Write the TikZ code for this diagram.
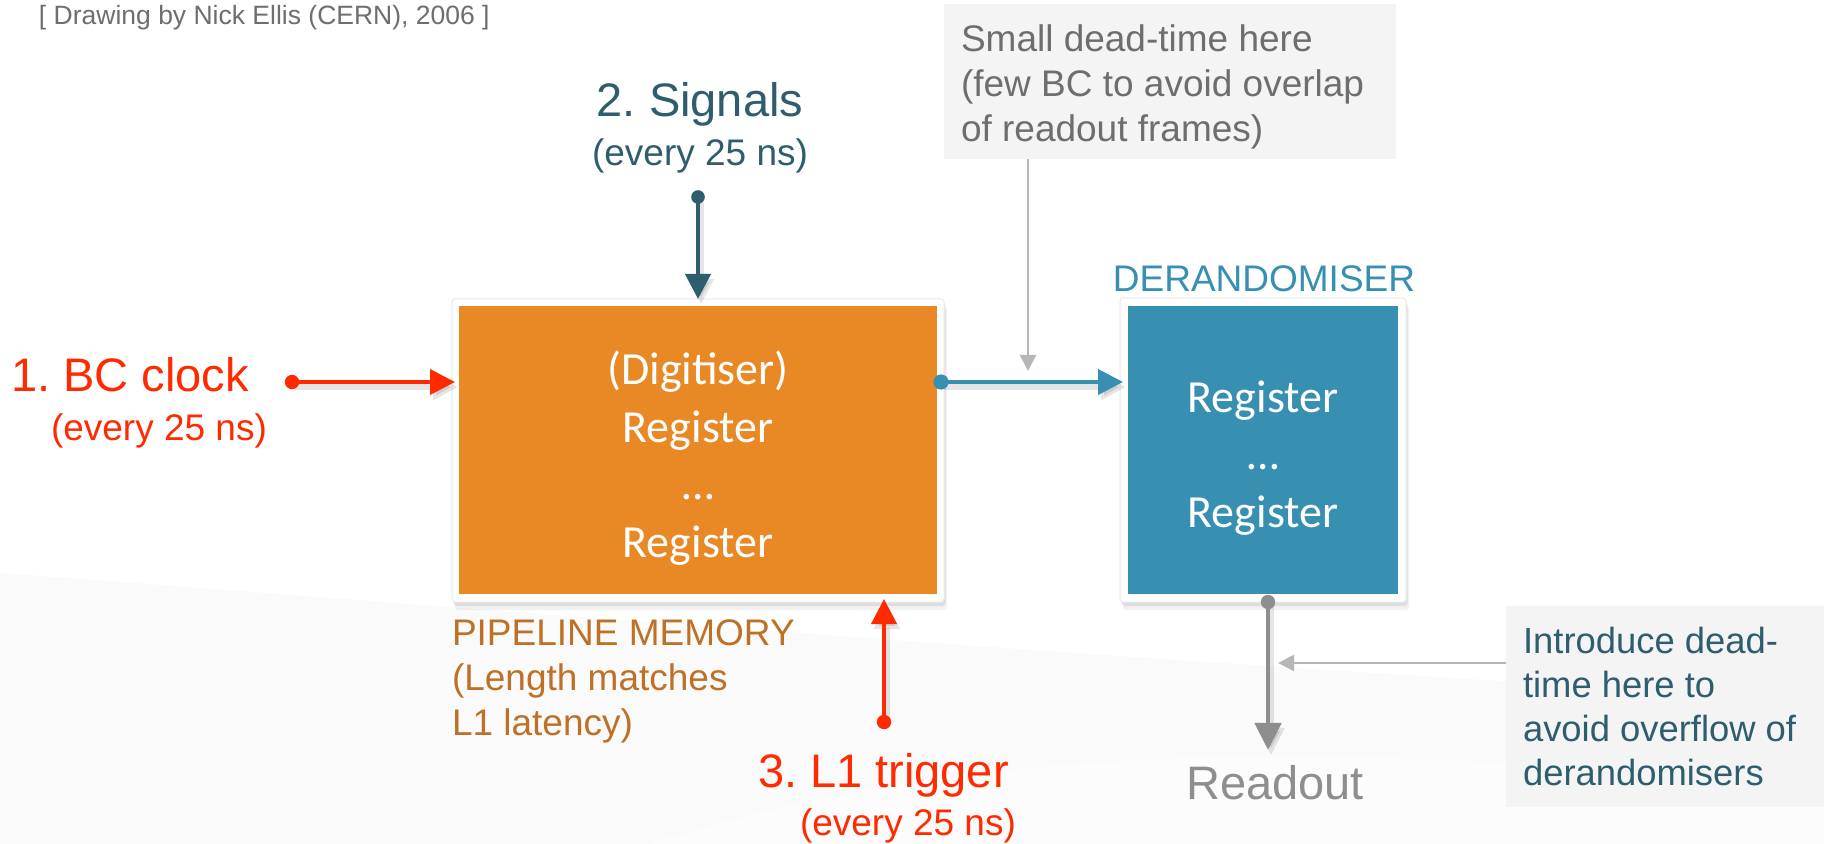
\documentclass[tikz,border=0pt]{standalone}
\usepackage{fontspec}
\setmainfont{Liberation Sans}
\newfontfamily\calibrifont{Carlito}
\usetikzlibrary{arrows.meta,shadows}
\frenchspacing

\definecolor{sigred}{RGB}{255,42,0}
\definecolor{pipeorange}{RGB}{233,137,38}
\definecolor{derblue}{RGB}{55,144,178}
\definecolor{darkteal}{RGB}{46,94,110}
\definecolor{pipebrown}{RGB}{190,113,38}
\definecolor{credgrey}{RGB}{110,110,110}
\definecolor{readgrey}{RGB}{142,142,142}
\definecolor{annline}{RGB}{182,182,182}
\definecolor{notefill}{RGB}{244,244,244}
\definecolor{swoosh}{RGB}{250,250,250}

\begin{document}
\begin{tikzpicture}[x=0.5pt, y=-0.5pt,
  every node/.style={inner sep=0pt, outer sep=0pt},
  bigfont/.style={font=\fontsize{23.5}{28}\selectfont},
  smallfont/.style={font=\fontsize{18.5}{22.5}\selectfont},
  frame/.style={fill=white, draw=black!8, line width=0.5pt, rounded corners=1.5pt,
    drop shadow={opacity=0.10, shadow xshift=1.5pt, shadow yshift=-4pt},
    drop shadow={opacity=0.18, shadow xshift=0.8pt, shadow yshift=-2pt}},
  blocktext/.style={text=white, align=center, font=\calibrifont\fontsize{23}{28.85}\selectfont},
  wire/.style={line width=2pt, -{Triangle[length=12.5pt,width=12.5pt]}},
  wireshadow/.style={preaction={draw=black, opacity=0.1, line width=3pt,
    transform canvas={xshift=1.5pt,yshift=-2.5pt}}},
  notebox/.style={fill=notefill, anchor=north west},
  notearrow/.style={draw=annline, line width=1pt, -{Triangle[length=8pt,width=8pt]}},
]
\useasboundingbox (0,0) rectangle (1824,844);
\fill[white] (0,0) rectangle (1824,844);

% faint background swoosh
\fill[swoosh] (0,573) .. controls (500,610) and (1100,660) .. (1824,700)
  -- (1824,844) -- (0,844) -- cycle;
\fill[white!50!swoosh] (650,844) .. controls (1000,730) and (1400,745) .. (1824,790)
  -- (1824,844) -- cycle;

% annotation boxes
\node[notebox, minimum width=226pt, minimum height=77.5pt] (note1) at (944,4) {};
\node[notebox, minimum width=159pt, minimum height=100.5pt] (note2) at (1506,606) {};

% the two memory blocks: white framed cards with a coloured face
\node[frame, minimum width=246pt, minimum height=151.5pt] (pipe) at (698,450.5) {};
\fill[pipeorange] ([shift={(7,7)}]pipe.north west) rectangle ([shift={(-7,-8)}]pipe.south east);
\node[frame, minimum width=143pt, minimum height=152pt] (derand) at (1263,450) {};
\fill[derblue] ([shift={(8,8)}]derand.north west) rectangle ([shift={(-8,-8)}]derand.south east);

\node[blocktext, anchor=north] (pipetext) at (698,344)
  {\strut(Digitiser)\\Register\\…\\Register};
\node[blocktext, anchor=north, font=\calibrifont\fontsize{23}{28.75}\selectfont] (dertext) at (1263,372)
  {\strut Register\\…\\Register};

% labels
\node[anchor=base west, font=\fontsize{13.25}{16}\selectfont, text=credgrey] (credits) at (39,25)
  {[ Drawing by Nick Ellis (CERN), 2006 ]};
\node[bigfont, text=sigred, anchor=base west] (bclabel) at (11,392) {1. BC clock};
\node[smallfont, text=sigred, anchor=base west] (bcrate) at (51,440) {(every 25 ns)};
\node[bigfont, text=darkteal, anchor=base] (siglabel) at (700,117) {2. Signals};
\node[smallfont, text=darkteal, anchor=base] (sigrate) at (700,166) {(every 25 ns)};
\node[bigfont, text=sigred, anchor=base west] (l1label) at (758,787) {3. L1 trigger};
\node[smallfont, text=sigred, anchor=base west] (l1rate) at (800,835) {(every 25 ns)};
\node[smallfont, text=pipebrown, anchor=north west, align=left] (pipelabel) at (452,613.5)
  {\strut PIPELINE MEMORY\\(Length matches\\L1 latency)};
\node[smallfont, text=derblue, anchor=base] (derlabel) at (1264,292) {DERANDOMISER};
\node[bigfont, text=readgrey, anchor=base] (readout) at (1275,799) {Readout};
\node[smallfont, text=credgrey, anchor=north west, align=left] (note1txt) at (961,20.5)
  {\strut Small dead-time here\\(few BC to avoid overlap\\of readout frames)};
\node[font=\fontsize{18.2}{22}\selectfont, text=darkteal, anchor=north west, align=left] (note2txt) at (1523,622.2)
  {\strut Introduce dead-\\time here to\\avoid overflow of\\derandomisers};

% signal paths
\coordinate (bcstart) at (292,382);
\coordinate (sigstart) at (698,197);
\coordinate (l1start) at (884,722);
\coordinate (outstart) at (941,382);
\coordinate (rostart) at (1268,602);
\coordinate (ann1tip) at (1028,371);
\coordinate (ann2tip) at (1278,663);

\draw[wire, sigred, wireshadow] (bcstart) -- ([xshift=1.5pt]bcstart -| pipe.west);
\draw[wire, darkteal, wireshadow] (sigstart) -- (pipe.north);
\draw[wire, sigred, wireshadow] (l1start) -- ([yshift=1.5pt]l1start |- pipe.south);
\draw[wire, derblue, wireshadow] (outstart) -- ([xshift=1.5pt]outstart -| derand.west);
\draw[readgrey, wireshadow, line width=2.4pt, -{Triangle[length=13.5pt,width=13pt]}, shorten >=7.5pt]
  (rostart) -- (rostart |- readout.north);

\fill[sigred] (bcstart) circle[radius=3.6pt];
\fill[darkteal] (sigstart) circle[radius=3.4pt];
\fill[sigred] (l1start) circle[radius=3.6pt];
\fill[derblue] (outstart) circle[radius=3.8pt];
\fill[readgrey] (rostart) circle[radius=3.6pt];

% annotation pointers
\draw[notearrow] (note1.south -| ann1tip) -- (ann1tip);
\draw[notearrow] (note2.west |- ann2tip) -- (ann2tip);
\end{tikzpicture}
\end{document}
